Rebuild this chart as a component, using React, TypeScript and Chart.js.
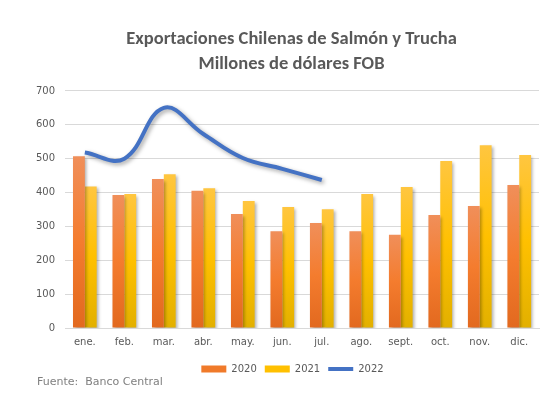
import React, { useEffect, useRef } from "react";
import { Chart, registerables } from "chart.js";

Chart.register(...registerables);

const categories = ["ene.", "feb.", "mar.", "abr.", "may.", "jun.", "jul.", "ago.", "sept.", "oct.", "nov.", "dic."];
const values2020 = [507, 393, 440, 405, 337, 286, 310, 286, 275, 334, 360, 422];
const values2021 = [418, 396, 454, 413, 375, 357, 351, 396, 416, 493, 540, 511];
const values2022 = [518, 500, 650, 573, 502, 470, 437];
const yTicks = [0, 100, 200, 300, 400, 500, 600, 700];
const titleLines = ["Exportaciones Chilenas de Salmón y Trucha", "Millones de dólares FOB"];
const seriesNames = ["2020", "2021", "2022"];
const sourceText = "Fuente:  Banco Central";

const TITLE_FONT = "Carlito, Lato, 'Open Sans', sans-serif";
const TICK_FONT = "'DejaVu Sans', Verdana, sans-serif";

function barGradient(ctx: any, stops: [number, string][], fallback: string) {
  const chart = ctx.chart;
  const area = chart.chartArea;
  if (!area || ctx.type !== "data") return fallback;
  const yScale = chart.scales.y;
  const v = ctx.raw as number;
  const top = yScale.getPixelForValue(v);
  const bottom = yScale.getPixelForValue(0);
  if (!isFinite(top) || !isFinite(bottom) || bottom - top < 1) return fallback;
  const g = chart.ctx.createLinearGradient(0, top, 0, bottom);
  stops.forEach(([o, c]) => g.addColorStop(o, c));
  return g;
}

const shadowPlugin = {
  id: "shadowPlugin",
  afterLayout(chart: any) {
    if (chart.legend) {
      chart.legend.left += 10;
      chart.legend.right += 10;
    }
    if (chart.titleBlock) {
      chart.titleBlock.left += 9;
      chart.titleBlock.right += 9;
    }
  },
  beforeDatasetDraw(chart: any, args: any) {
    const ctx = chart.ctx;
    ctx.save();
    const isLine = chart.data.datasets[args.index].type === "line";
    ctx.shadowColor = isLine ? "rgba(0,0,0,0.35)" : "rgba(0,0,0,0.3)";
    ctx.shadowBlur = isLine ? 4 : 3;
    ctx.shadowOffsetX = 2;
    ctx.shadowOffsetY = 2;
  },
  afterDatasetDraw(chart: any) {
    chart.ctx.restore();
  },
};

export default function App() {
  const canvasRef = useRef<HTMLCanvasElement | null>(null);

  useEffect(() => {
    if (!canvasRef.current) return;
    const chart = new Chart(canvasRef.current, {
      type: "bar",
      data: {
        labels: categories,
        datasets: [
          {
            type: "bar",
            label: seriesNames[0],
            data: values2020,
            backgroundColor: (ctx: any) =>
              barGradient(ctx, [[0, "#F08F5A"], [0.5, "#F47C2E"], [1, "#E2691F"]], "#F07A2A"),
            borderWidth: 0,
            categoryPercentage: 0.6,
            barPercentage: 1,
            order: 1,
          },
          {
            type: "bar",
            label: seriesNames[1],
            data: values2021,
            backgroundColor: (ctx: any) =>
              barGradient(ctx, [[0, "#FFC640"], [0.5, "#FFC000"], [1, "#E2B000"]], "#FFC000"),
            borderWidth: 0,
            categoryPercentage: 0.6,
            barPercentage: 1,
            order: 1,
          },
          {
            type: "line",
            label: seriesNames[2],
            data: values2022,
            borderColor: "#4472C4",
            backgroundColor: "#4472C4",
            borderWidth: 4,
            pointRadius: 0,
            tension: 0.4,
            fill: false,
            order: 0,
          } as any,
        ],
      },
      options: {
        animation: false,
        responsive: false,
        maintainAspectRatio: false,
        layout: { padding: { left: 26, right: 13, top: 27, bottom: 13 } },
        plugins: {
          tooltip: { enabled: false },
          title: {
            display: true,
            text: titleLines,
            color: "#595959",
            font: { family: TITLE_FONT, size: 18.5, weight: "bold", lineHeight: 1.35 },
            padding: { top: 0, bottom: 14 },
          },
          legend: {
            display: true,
            position: "bottom",
            labels: {
              usePointStyle: true,
              pointStyleWidth: 25,
              boxHeight: 7,
              padding: 8,
              color: "#595959",
              font: { family: TICK_FONT, size: 10 },
              generateLabels: () => [
                { text: seriesNames[0], fillStyle: "#F07A2A", strokeStyle: "#F07A2A", lineWidth: 0, pointStyle: "rect", datasetIndex: 0, hidden: false, fontColor: "#595959" },
                { text: seriesNames[1], fillStyle: "#FFC000", strokeStyle: "#FFC000", lineWidth: 0, pointStyle: "rect", datasetIndex: 1, hidden: false, fontColor: "#595959" },
                { text: seriesNames[2], fillStyle: "#4472C4", strokeStyle: "#4472C4", lineWidth: 4, pointStyle: "line", datasetIndex: 2, hidden: false, fontColor: "#595959" },
              ] as any,
            },
          },
        },
        scales: {
          x: {
            type: "category",
            offset: true,
            grid: { display: false, drawTicks: false },
            border: { display: true, color: "#D9D9D9" },
            ticks: {
              color: "#595959",
              font: { family: TICK_FONT, size: 10 },
              padding: 8,
              maxRotation: 0,
              autoSkip: false,
            },
          },
          y: {
            min: 0,
            max: 700,
            afterBuildTicks: (axis: any) => {
              axis.ticks = yTicks.map((v) => ({ value: v }));
            },
            grid: { color: "#D9D9D9", drawTicks: false, lineWidth: 1 },
            border: { display: false },
            ticks: {
              color: "#595959",
              font: { family: TICK_FONT, size: 10 },
              padding: 10,
            },
          },
        },
      },
      plugins: [shadowPlugin],
    } as any);
    return () => chart.destroy();
  }, []);

  return (
    <div style={{ position: "absolute", left: 0, top: 0, width: 552, height: 397, background: "#fff" }}>
      <canvas ref={canvasRef} width={552} height={397} style={{ display: "block" }} />
      <div
        style={{
          position: "absolute",
          left: 37,
          top: 374,
          fontFamily: TICK_FONT,
          fontSize: 11,
          color: "#7F7F7F",
          whiteSpace: "pre",
          lineHeight: "16px",
        }}
      >
        {sourceText}
      </div>
    </div>
  );
}
